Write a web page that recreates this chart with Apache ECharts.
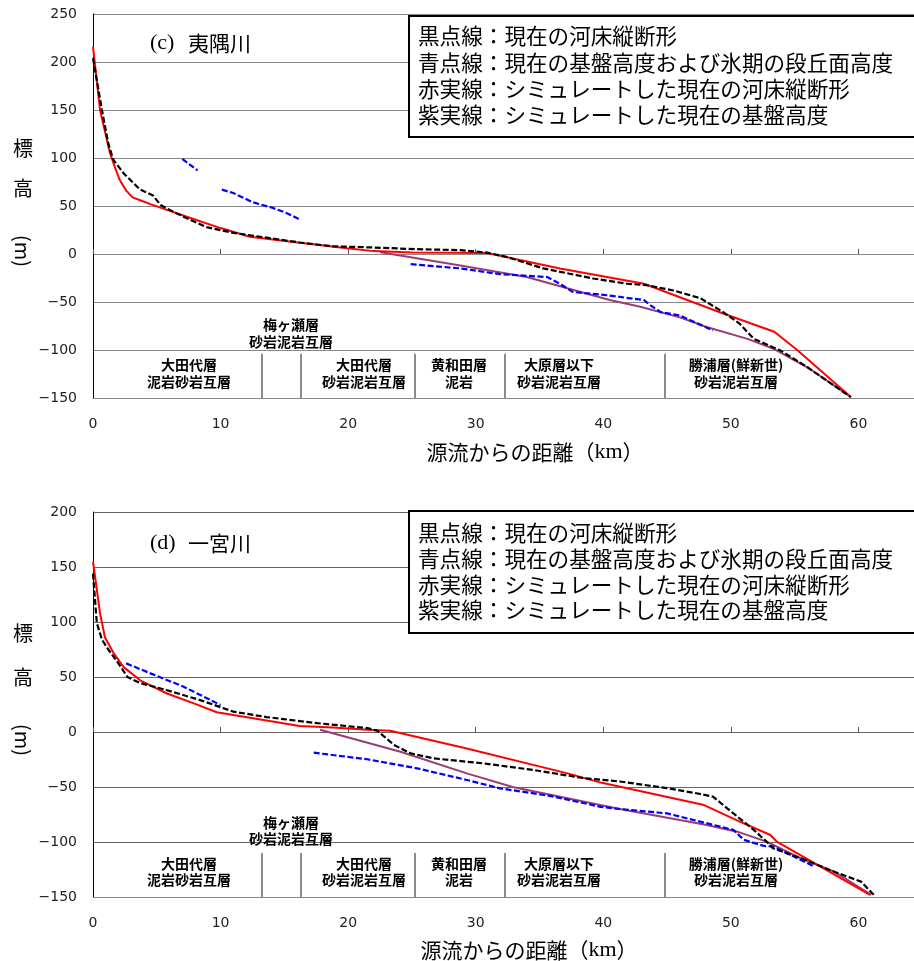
<!DOCTYPE html>
<html><head><meta charset="utf-8">
<script src="https://cdn.jsdelivr.net/npm/echarts@6/dist/echarts.min.js"></script>
<style>html,body{margin:0;padding:0;background:#fff}#c{width:914px;height:961px}</style>
</head><body><div id="c"></div>
<script>
// ---------- DATA ----------
const xTicks = [0, 10, 20, 30, 40, 50, 60];
// (c) 夷隅川  [km, m]
const blackC = [[0,204],[0.3,181],[0.7,150],[1.2,115],[1.6,98],[2.4,84],[3.7,67],[4.7,61],[5.3,51],[6.3,44],[7.4,37],[8.9,28],[11,22],[13.6,17],[16.2,12],[18.8,8],[21.5,7],[25.4,5],[28.8,4],[30.9,1.4],[32.4,-3],[35.3,-15],[39.2,-25.5],[41.9,-31],[43.4,-32.5],[45.5,-38],[47.6,-46],[49.4,-60.5],[50.7,-72.7],[51.8,-88.4],[53.9,-100.6],[56,-118],[59.4,-149]];
const redC = [[0,216],[0.55,150],[1.33,105],[1.7,91],[2.1,77],[2.6,66],[3.1,59],[3.7,56],[4.5,52],[5.8,46],[7.3,39],[10,27],[12.3,18],[15.7,12.5],[19.9,6],[22,3],[25,1.5],[30.9,1],[36.6,-15],[43.2,-31],[46,-45],[49.4,-62],[53.4,-81],[55.2,-100],[59.4,-149]];
const purpleC = [[22.5,2],[23,0.7],[28.8,-12],[34,-24],[40.5,-48],[42.9,-55],[46,-66],[48.1,-76],[51.3,-88.4],[53.4,-99],[56,-118],[59.4,-149]];
const blueC1 = [[7,99],[8.2,87]];
const blueC2 = [[10.1,67],[11,63.5],[12.5,54],[14.1,48],[15.2,42.5],[16.2,36]];
const blueC3 = [[24.9,-10.5],[28.8,-15],[31.9,-21],[35.6,-24],[36.6,-31],[37.6,-39.5],[40.3,-43],[43.2,-48],[43.7,-53.5],[44.5,-60.5],[46,-64],[48.6,-79.7]];
// (d) 一宮川
const blackD = [[0,144],[0.3,99],[0.7,84],[1.2,75],[1.9,64],[2.7,50],[3.7,44.5],[5.8,38],[8.4,29],[11,18.5],[13.6,13.6],[17.6,8],[21.5,3.6],[22.3,1],[23.6,-11.8],[24.9,-19.4],[26.7,-24],[30.6,-28.5],[34.5,-34.5],[38.5,-42],[41.3,-45],[45,-51],[47.3,-55.7],[48.6,-58.8],[50.2,-74],[51.8,-89],[52.8,-99.7],[53.3,-105.7],[55.5,-114.8],[58.1,-127],[60.2,-136],[61.2,-148]];
const redD = [[0,155],[0.55,108],[0.94,86],[1.6,72],[2.4,59],[3.7,47],[5.8,35],[7.9,26],[9.7,18],[12.3,13],[16.2,5.5],[18.8,4],[21.5,2],[23.3,1.2],[29.3,-15],[37.2,-37.6],[39.8,-46],[47.9,-66.4],[50.7,-81.5],[53.1,-93.6],[53.6,-99.7],[60.9,-148]];
const purpleD = [[17.8,2],[24.1,-18],[29.3,-37.6],[32.9,-50],[41.3,-70],[47.9,-84],[50.5,-90.6],[52.8,-99.7],[55.5,-114.8],[58.1,-127],[61,-148]];
const blueD1 = [[2.6,62.4],[4.5,53.3],[7.1,41.2],[10,24.5]];
const blueD2 = [[17.3,-18.8],[21.5,-24.8],[25.4,-33],[29.3,-43.6],[31.9,-51.2],[35.8,-58],[39.8,-68],[41.3,-70],[45,-74],[50.2,-89],[51,-98],[52.6,-103.6],[53.3,-104],[55.5,-116.4],[56.5,-122]];
// geology boundaries (km)
const boundaries = [13.2, 16.3, 25.2, 32.3, 44.8];
const legendLines = ['黒点線：現在の河床縦断形','青点線：現在の基盤高度および氷期の段丘面高度','赤実線：シミュレートした現在の河床縦断形','紫実線：シミュレートした現在の基盤高度'];
const titles = ['(c)', '夷隅川', '(d)', '一宮川'];
const xName = ['源流からの距離（', 'km', '）'];
const formations = [['梅ヶ瀬層','砂岩泥岩互層'],['大田代層','泥岩砂岩互層'],['大田代層','砂岩泥岩互層'],['黄和田層','泥岩'],['大原層以下','砂岩泥岩互層'],['勝浦層(鮮新世)','砂岩泥岩互層']];

// ---------- LAYOUT ----------
const CJK = '"Noto Sans CJK JP"';
const chart = echarts.init(document.getElementById('c'));
const fmt = v => String(v).replace('-', '−');
function grid(top, bottom){ return {left:93, right:-72, top:top, bottom:bottom, outerBoundsMode:'none', containLabel:false}; }
function xMain(g){ return {type:'value', gridIndex:g, min:0, max:70, interval:10, position:'bottom',
  axisLine:{show:true,onZero:false,lineStyle:{color:'#888',width:1}}, axisTick:{show:false},
  axisLabel:{show:true,margin:19,color:'#222',fontFamily:'DejaVu Sans',fontSize:14,formatter:v=>v>60?'':fmt(v),showMaxLabel:false},
  splitLine:{show:false}}; }
function xTickAx(g, off){ return {type:'value', gridIndex:g, min:0, max:70, interval:10, position:'top', offset:off,
  axisLine:{show:false}, axisTick:{show:true,inside:false,length:5,lineStyle:{color:'#555'}}, axisLabel:{show:false}, splitLine:{show:false}}; }
function yAx(g, max, gc){ return {type:'value', gridIndex:g, min:-150, max:max, interval:50,
  axisLine:{show:true,onZero:false,lineStyle:{color:'#000',width:1}}, axisTick:{show:false},
  axisLabel:{margin:16,color:'#222',fontFamily:'DejaVu Sans',fontSize:14,formatter:fmt},
  splitLine:{show:true,lineStyle:{color:gc,width:1.2}}}; }
function line(data, xi, yi, color, dashed, z){
  return {type:'line', xAxisIndex:xi, yAxisIndex:yi, data:data, showSymbol:false, symbol:'none', smooth:false, z:z,
    lineStyle:{color:color, width: dashed ? 2.2 : 2, type: dashed ? [6,2.5] : 'solid'}, silent:true, animation:false};
}
function bounds(xi, yi, top){
  return {type:'line', xAxisIndex:xi, yAxisIndex:yi, data:[], silent:true, z:1,
    markLine:{silent:true, symbol:'none', label:{show:false}, lineStyle:{color:'#666',width:1.5,type:'solid'},
      data: boundaries.map(k=>[{coord:[k,top]},{coord:[k,-150]}])}};
}
const series = [
  bounds(0,0,-104), bounds(2,1,-110),
  line(purpleC,0,0,'#9B3B73',false,2),
  line(blueC1,0,0,'#0000FF',true,3), line(blueC2,0,0,'#0000FF',true,3), line(blueC3,0,0,'#0000FF',true,3),
  line(redC,0,0,'#FF0000',false,4),
  line(blackC,0,0,'#000',true,5),
  line(purpleD,2,1,'#9B3B73',false,2),
  line(blueD1,2,1,'#0000FF',true,3), line(blueD2,2,1,'#0000FF',true,3),
  line(redD,2,1,'#FF0000',false,4),
  line(blackD,2,1,'#000',true,5)
];
function T(x,y,text,font,extra){ return Object.assign({type:'text', x:x, y:y, z:100, silent:true,
  style:{text:text, font:font, fill:'#000', align:'center', verticalAlign:'middle'}}, extra||{}); }
const gfx = [];
function panel(dy, boxTop, boxH, lh, lblFirst, titleY, yNameY, xNameX, xNameY, fRow0, fRow1, fRow2, fRow3){
  gfx.push({type:'rect', z:90, silent:true, shape:{x:409,y:boxTop,width:560,height:boxH}, style:{fill:'#fff',stroke:'#000',lineWidth:2}});
  gfx.push({type:'text', z:100, silent:true, x:418, y:lblFirst - lh/2,
    style:{text:legendLines.join('\n'), font:'21.6px '+CJK, lineHeight:lh, fill:'#000', align:'left', verticalAlign:'top'}});
  gfx.push({type:'text', z:100, silent:true, x:150, y:titleY, style:{text:dy===0?titles[0]:titles[2], font:'22px "Liberation Serif"', fill:'#000', align:'left', verticalAlign:'middle'}});
  gfx.push({type:'text', z:100, silent:true, x:188, y:titleY, style:{text:dy===0?titles[1]:titles[3], font:'21px '+CJK, fill:'#000', align:'left', verticalAlign:'middle'}});
  gfx.push(T(23, yNameY[0], '標', '20px '+CJK));
  gfx.push(T(23, yNameY[1], '高', '20px '+CJK));
  gfx.push(T(23, yNameY[2], '(m)', '20px '+CJK, {rotation:-Math.PI/2}));
  gfx.push({type:'text', z:100, silent:true, x:xNameX, y:xNameY, style:{
    text:'{a|'+xName[0]+'}{b|'+xName[1]+'}{a|'+xName[2]+'}', fill:'#000', align:'center', verticalAlign:'middle',
    rich:{a:{font:'21px '+CJK, fill:'#000'}, b:{font:'22px "Liberation Serif"', fill:'#000'}}}});
  const bf = 'bold 14px '+CJK;
  const cx = [189, 364, 459, 559, 736];
  gfx.push(T(291, fRow0, formations[0][0], bf));
  gfx.push(T(291, fRow1, formations[0][1], bf));
  for (let i=1;i<formations.length;i++){
    gfx.push(T(cx[i-1], fRow2, formations[i][0], bf));
    gfx.push(T(cx[i-1], fRow3, formations[i][1], bf));
  }
}
panel(0, 16, 121, 26.3, 36, 43, [148,188,251], 535, 452, 325, 342, 365, 382);
panel(1, 511, 122, 25.7, 533, 543, [633,677,740], 529, 950, 823, 839, 864, 880);

chart.setOption({
  animation:false,
  backgroundColor:'#fff',
  grid:[grid(14, 563), grid(512, 64)],
  xAxis:[xMain(0), xTickAx(0,-240), xMain(1), xTickAx(1,-220)],
  yAxis:[yAx(0,250,'#888'), yAx(1,200,'#666')],
  series:series,
  graphic:gfx
});
</script></body></html>
